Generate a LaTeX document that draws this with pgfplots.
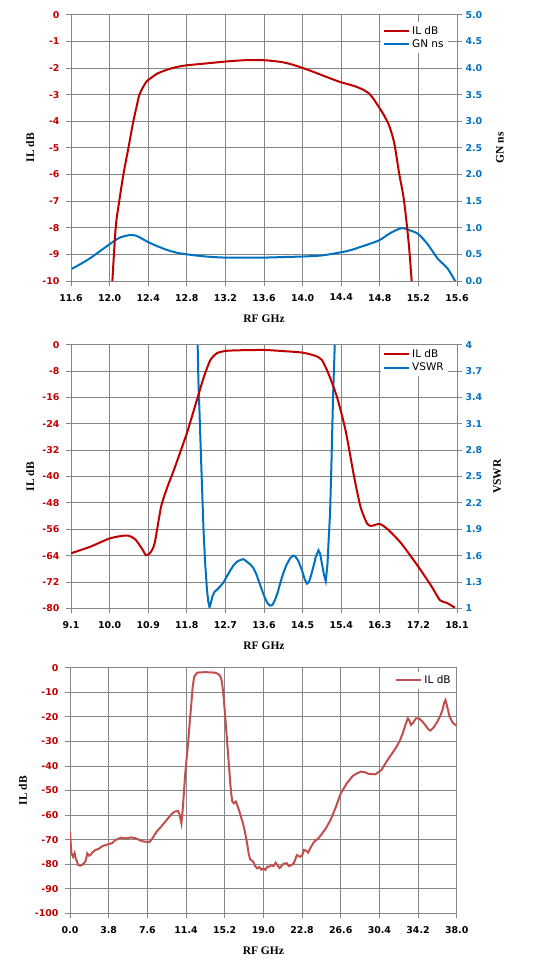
\documentclass[border=0pt]{standalone}
\usepackage{fontspec}
\setmainfont{DejaVu Sans}
\newfontfamily\tnr{Liberation Serif}
\usepackage{pgfplots}
\pgfplotsset{compat=1.18}
\definecolor{ilred}{RGB}{192,0,0}
\definecolor{ilred3}{RGB}{192,80,77}
\definecolor{gnblue}{RGB}{0,112,192}
\definecolor{gridgray}{RGB}{134,134,134}
\newcommand\labfont{\tnr\bfseries\fontsize{11.5}{12}\selectfont}
\newcommand\tickfont{\bfseries\fontsize{9.4}{10}\selectfont}
\pgfplotsset{
  base/.style={
    scale only axis, width=386pt, anchor=south west,
    axis line style={draw=gridgray, line width=0.8pt},
    major tick style={draw=gridgray, line width=0.8pt},
    grid style={gridgray, line width=0.8pt},
    tick align=outside, major tick length=5pt,
    ticklabel style={font=\tickfont},
    /pgf/number format/assume math mode=true,
    label style={font=\labfont},
    xtick pos=bottom,
    yticklabel style={xshift=-3pt},
    xticklabel style={yshift=-4.5pt},
    clip=true,
  },
}
\begin{document}
\begin{tikzpicture}
\path[use as bounding box] (0pt,0pt) rectangle (556pt,-976pt);

% ================= Panel 1 =================
\begin{axis}[base, at={(71pt,-281pt)}, height=266.3pt,
  xmin=11.6, xmax=15.6, ymin=0, ymax=5,
  grid=major,
  xtick={11.6,12.0,12.4,12.8,13.2,13.6,14.0,14.4,14.8,15.2,15.6},
  xticklabels={}, xtick style={draw=none},
  ytick={0,0.5,1,1.5,2,2.5,3,3.5,4,4.5,5},
  ytick pos=right,
  yticklabel style={xshift=3pt, text=gnblue},
  /pgf/number format/.cd, fixed, fixed zerofill, precision=1,
  /pgfplots/.cd,
  ylabel={GN ns},
  ylabel style={at={(axis description cs:1.111,0.5)}, anchor=center, rotate=0},
]
\addplot[gnblue, line width=2pt, smooth] coordinates {
(11.6,0.22)(11.7,0.32)(11.8,0.43)(11.9,0.56)(12.0,0.69)(12.1,0.81)(12.2,0.86)(12.25,0.86)
(12.3,0.83)(12.4,0.73)(12.5,0.65)(12.6,0.58)(12.7,0.53)(12.8,0.50)(13.0,0.46)(13.2,0.44)
(13.6,0.44)(13.8,0.45)(14.0,0.46)(14.2,0.48)(14.4,0.54)(14.5,0.58)(14.6,0.64)(14.7,0.70)
(14.8,0.77)(14.9,0.89)(15.0,0.98)(15.05,0.99)(15.1,0.96)(15.2,0.88)(15.3,0.68)(15.4,0.42)
(15.5,0.24)(15.58,0.0)};
\end{axis}
\begin{axis}[base, at={(71pt,-281pt)}, height=266.3pt,
  xmin=11.6, xmax=15.6, ymin=-10, ymax=0,
  xtick={11.6,12.0,12.4,12.8,13.2,13.6,14.0,14.4,14.8,15.2,15.6},
  xticklabel style={/pgf/number format/.cd, fixed, fixed zerofill, precision=1},
  ytick={-10,-9,...,0},
  ytick pos=left,
  yticklabel style={text=ilred},
  xlabel={RF GHz}, ylabel={IL dB},
  xlabel style={at={(axis description cs:0.5,-0.143)}, anchor=center},
  ylabel style={at={(axis description cs:-0.106,0.5)}, anchor=center},
  legend style={draw=none, fill=white, font=\fontsize{10.5}{12}\selectfont,
      at={(0.803,0.973)}, anchor=north west, inner sep=2pt, row sep=0pt},
  legend cell align=left,
  legend image code/.code={\draw[#1] (0pt,0pt) -- (25pt,0pt);},
]
\addlegendimage{ilred, line width=2pt}
\addlegendentry{IL dB}
\addlegendimage{gnblue, line width=2pt}
\addlegendentry{GN ns}
\addplot[ilred, line width=2pt, smooth, tension=0.5] coordinates {
(12.029,-10)(12.063,-8)(12.10,-7)(12.143,-6)(12.195,-5)(12.246,-4)(12.28,-3.45)(12.309,-3)
(12.35,-2.7)(12.385,-2.5)(12.45,-2.32)(12.5,-2.2)(12.6,-2.06)(12.7,-1.96)(12.8,-1.9)
(13.0,-1.83)(13.2,-1.76)(13.4,-1.71)(13.6,-1.71)(13.7,-1.74)(13.8,-1.79)(13.9,-1.88)
(14.0,-2.0)(14.1,-2.13)(14.2,-2.27)(14.3,-2.41)(14.4,-2.54)(14.5,-2.64)(14.6,-2.77)
(14.7,-3.0)(14.8,-3.52)(14.85,-3.82)(14.9,-4.2)(14.95,-4.83)(15.0,-5.95)(15.05,-6.96)
(15.1,-8.6)(15.13,-10)};
\end{axis}

% ================= Panel 2 =================
\begin{axis}[base, at={(71pt,-608.3pt)}, height=263.6pt,
  xmin=9.1, xmax=18.1, ymin=1, ymax=4,
  grid=major,
  xtick={9.1,10.0,10.9,11.8,12.7,13.6,14.5,15.4,16.3,17.2,18.1},
  xticklabels={}, xtick style={draw=none},
  ytick={1,1.3,1.6,1.9,2.2,2.5,2.8,3.1,3.4,3.7,4},
  yticklabels={1,1.3,1.6,1.9,2.2,2.5,2.8,3.1,3.4,3.7,4},
  ytick pos=right,
  yticklabel style={xshift=3pt, text=gnblue},
  ylabel={VSWR},
  ylabel style={at={(axis description cs:1.104,0.5)}, anchor=center, rotate=0},
]
\addplot[gnblue, line width=2pt] coordinates {
(12.04,4.3)(12.07,3.6)(12.11,3.03)(12.15,2.45)(12.19,1.89)(12.23,1.5)(12.27,1.21)(12.30,1.08)
(12.33,1.01)(12.36,1.06)(12.40,1.14)(12.45,1.19)(12.50,1.21)(12.58,1.25)(12.65,1.29)
(12.73,1.36)(12.80,1.42)(12.89,1.49)(12.97,1.53)(13.05,1.55)(13.12,1.56)(13.20,1.53)
(13.28,1.50)(13.35,1.46)(13.42,1.39)(13.50,1.28)(13.55,1.21)(13.62,1.12)(13.68,1.06)
(13.74,1.03)(13.80,1.04)(13.86,1.10)(13.92,1.18)(13.98,1.29)(14.05,1.40)(14.12,1.49)
(14.21,1.57)(14.28,1.60)(14.33,1.59)(14.40,1.54)(14.48,1.44)(14.55,1.33)(14.60,1.28)
(14.65,1.30)(14.70,1.38)(14.75,1.47)(14.81,1.59)(14.87,1.66)(14.91,1.62)(14.95,1.51)
(15.00,1.38)(15.04,1.31)(15.08,1.50)(15.11,1.80)(15.14,2.08)(15.17,2.6)(15.21,3.41)
(15.25,4.0)(15.27,4.3)};
\end{axis}
\begin{axis}[base, at={(71pt,-608.3pt)}, height=263.6pt,
  xmin=9.1, xmax=18.1, ymin=-80, ymax=0,
  xtick={9.1,10.0,10.9,11.8,12.7,13.6,14.5,15.4,16.3,17.2,18.1},
  xticklabel style={/pgf/number format/.cd, fixed, fixed zerofill, precision=1},
  ytick={-80,-72,...,0},
  ytick pos=left,
  yticklabel style={text=ilred},
  xlabel={RF GHz}, ylabel={IL dB},
  xlabel style={at={(axis description cs:0.5,-0.143)}, anchor=center},
  ylabel style={at={(axis description cs:-0.106,0.5)}, anchor=center},
  legend style={draw=none, fill=white, font=\fontsize{10.5}{12}\selectfont,
      at={(0.803,0.998)}, anchor=north west, inner sep=2pt, row sep=0pt},
  legend cell align=left,
  legend image code/.code={\draw[#1] (0pt,0pt) -- (25pt,0pt);},
]
\addlegendimage{ilred, line width=2pt}
\addlegendentry{IL dB}
\addlegendimage{gnblue, line width=2pt}
\addlegendentry{VSWR}
\addplot[ilred, line width=2pt, smooth, tension=0.4] coordinates {
(9.1,-63.3)(9.55,-61.3)(10.0,-58.8)(10.3,-58.0)(10.45,-58.0)(10.6,-59.1)(10.75,-61.8)
(10.85,-63.9)(10.95,-63.1)(11.05,-60.3)(11.2,-49.2)(11.35,-43.1)(11.5,-38.0)(11.8,-26.9)
(12.0,-18.3)(12.2,-9.7)(12.35,-4.65)(12.5,-2.6)(12.7,-1.9)(13.0,-1.7)(13.6,-1.6)
(14.0,-1.9)(14.5,-2.4)(14.8,-3.4)(14.95,-4.65)(15.1,-8.7)(15.3,-15.8)(15.5,-25.9)
(15.7,-40)(15.85,-49.2)(16.0,-54.2)(16.1,-55)(16.3,-54.4)(16.5,-56.2)(16.8,-60.3)
(17.2,-67.4)(17.5,-73.2)(17.7,-77.5)(17.85,-78.3)(17.95,-79)(18.05,-79.8)};
\end{axis}

% ================= Panel 3 =================
\begin{axis}[base, at={(70pt,-913.3pt)}, width=386.7pt, height=245.6pt,
  xmin=0, xmax=38, ymin=-100, ymax=0,
  grid=major,
  xtick={0,3.8,7.6,11.4,15.2,19.0,22.8,26.6,30.4,34.2,38.0},
  xticklabel style={/pgf/number format/.cd, fixed, fixed zerofill, precision=1},
  ytick={-100,-90,...,0},
  ytick pos=left,
  yticklabel style={text=ilred},
  xlabel={RF GHz}, ylabel={IL dB},
  xlabel style={at={(axis description cs:0.5,-0.153)}, anchor=center},
  ylabel style={at={(axis description cs:-0.122,0.5)}, anchor=center},
  legend style={draw=none, fill=white, font=\fontsize{10.5}{12}\selectfont,
      at={(0.836,0.985)}, anchor=north west, inner sep=2pt, row sep=0pt},
  legend cell align=left,
  legend image code/.code={\draw[#1] (0pt,0pt) -- (25pt,0pt);},
]
\addplot[ilred3, line width=2pt] coordinates {
(0.0,-66.8)(0.08,-72)(0.15,-75.6)(0.3,-77)(0.45,-75.5)(0.55,-77.5)(0.8,-80.3)(1.0,-80.6)
(1.2,-80.3)(1.5,-79)(1.6,-77.5)(1.7,-75.6)(1.85,-76.5)(2.0,-76.3)(2.2,-75.2)(2.5,-74.2)
(2.8,-73.8)(3.2,-72.6)(3.5,-72.2)(3.8,-71.8)(4.1,-71.5)(4.5,-70.1)(5.0,-69.2)(5.5,-69.5)
(6.0,-69.1)(6.4,-69.4)(6.7,-69.9)(7.0,-70.5)(7.3,-70.8)(7.8,-71)(8.1,-69.5)(8.5,-66.8)
(9.0,-64.5)(9.5,-62)(10.0,-59.5)(10.3,-58.6)(10.6,-58.3)(10.75,-59.5)(10.95,-63.4)
(11.1,-56.6)(11.3,-44.4)(11.45,-37.5)(11.6,-30.8)(11.75,-23)(11.9,-15.9)(12.05,-8)
(12.2,-3.7)(12.5,-2.0)(13.3,-1.8)(14.2,-2.0)(14.5,-2.4)(14.7,-3)(14.85,-4.3)(14.95,-6.4)
(15.1,-12)(15.2,-17.2)(15.35,-25)(15.5,-33.5)(15.65,-41.5)(15.75,-47.1)(15.85,-51.5)
(15.95,-54.5)(16.1,-55.2)(16.3,-54.5)(16.6,-57.9)(17.0,-63.4)(17.2,-67)(17.4,-71.5)
(17.55,-75.5)(17.7,-78)(18.0,-79)(18.2,-80.8)(18.4,-81.7)(18.6,-81.2)(18.8,-82.2)
(19.0,-81.7)(19.2,-82.3)(19.4,-81)(19.6,-81)(19.8,-80.3)(20.0,-80.8)(20.2,-79.4)
(20.4,-80.5)(20.6,-81.6)(20.8,-80.7)(21.0,-79.8)(21.3,-79.6)(21.5,-80.8)(21.8,-80.3)
(22.0,-79.5)(22.3,-76.3)(22.6,-77)(22.8,-76.5)(23.0,-74.2)(23.2,-74.5)(23.4,-75.3)
(23.7,-72.8)(24.0,-70.8)(24.4,-69.5)(24.8,-67.4)(25.2,-65)(25.6,-62)(26.1,-57)
(26.6,-51.2)(27.2,-47.1)(27.8,-44)(28.2,-43)(28.6,-42.3)(29.0,-42.6)(29.4,-43.3)
(30.0,-43.4)(30.6,-41.7)(31.2,-37.6)(31.6,-35.2)(32.0,-32.8)(32.4,-29.8)(32.7,-26.7)
(33.0,-22.8)(33.2,-20.6)(33.35,-21.5)(33.5,-23.3)(33.7,-22.5)(34.0,-20.6)(34.3,-20.6)
(34.6,-21.8)(34.9,-23.3)(35.2,-25)(35.4,-25.6)(35.7,-24.5)(36.1,-22)(36.4,-19.5)
(36.6,-17.2)(36.75,-14.5)(36.9,-13.2)(37.1,-16.5)(37.3,-19.9)(37.6,-22.4)(38.0,-23.7)};
\addlegendentry{IL dB}
\end{axis}
\end{tikzpicture}
\end{document}
